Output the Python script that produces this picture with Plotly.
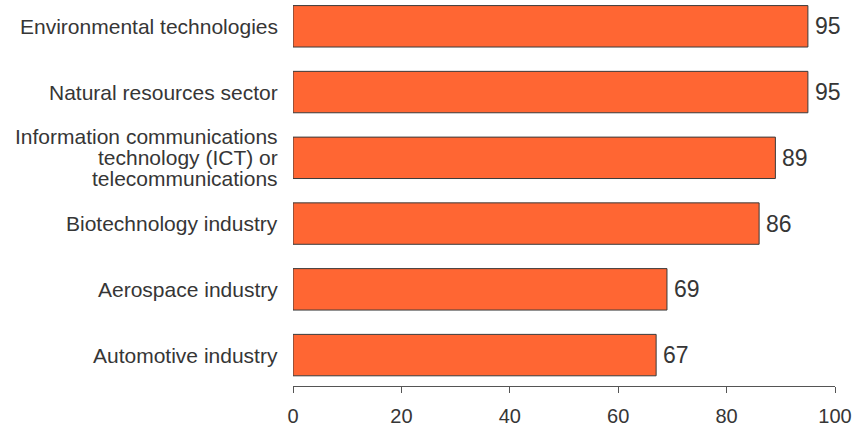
import plotly.graph_objects as go

categories = [
    "Automotive industry",
    "Aerospace industry",
    "Biotechnology industry",
    "Information communications<br>technology (ICT) or<br>telecommunications",
    "Natural resources sector",
    "Environmental technologies",
]
values = [67, 69, 86, 89, 95, 95]
x_ticks = [0, 20, 40, 60, 80, 100]

TEXT_COLOR = "#363636"
FONT = "Liberation Sans, Arial, Helvetica, sans-serif"
LINE_STEP = 21  # pixel spacing between lines of a wrapped category label

fig = go.Figure(
    go.Bar(
        y=categories,
        x=values,
        orientation="h",
        marker=dict(color="#FF6633", line=dict(color="#3a3a3a", width=1)),
        width=0.63,
        hoverinfo="x+y",
    )
)

annotations = []
# category labels, right-aligned against the plot, with tight line spacing
for cat in categories:
    lines = cat.split("<br>")
    n = len(lines)
    for i, line in enumerate(lines):
        annotations.append(dict(
            x=0, xref="paper", xanchor="right", xshift=-13,
            y=cat, yref="y", yanchor="middle",
            yshift=((n - 1) / 2 - i) * LINE_STEP,
            text=line, showarrow=False,
            font=dict(size=21, color=TEXT_COLOR, family=FONT),
        ))
# value labels at the end of each bar
for cat, v in zip(categories, values):
    annotations.append(dict(
        x=v, xref="x", xanchor="left", xshift=5,
        y=cat, yref="y", yanchor="middle",
        text=str(v), showarrow=False,
        font=dict(size=23, color=TEXT_COLOR, family=FONT),
    ))

fig.update_layout(
    width=855,
    height=427,
    margin=dict(l=293, r=20, t=0, b=38),
    paper_bgcolor="white",
    plot_bgcolor="white",
    font=dict(family=FONT, color=TEXT_COLOR),
    showlegend=False,
    annotations=annotations,
)
fig.update_xaxes(
    range=[0, 100],
    tickvals=x_ticks,
    showgrid=False,
    zeroline=False,
    showline=True,
    linecolor="#555555",
    linewidth=1,
    ticks="outside",
    ticklen=6,
    tickcolor="#555555",
    ticklabelstandoff=6,
    tickfont=dict(size=20, color=TEXT_COLOR),
)
fig.update_yaxes(
    range=[-0.47, 5.40],
    showgrid=False,
    zeroline=False,
    showline=False,
    ticks="",
    showticklabels=False,
)

fig.write_html("out.html")
